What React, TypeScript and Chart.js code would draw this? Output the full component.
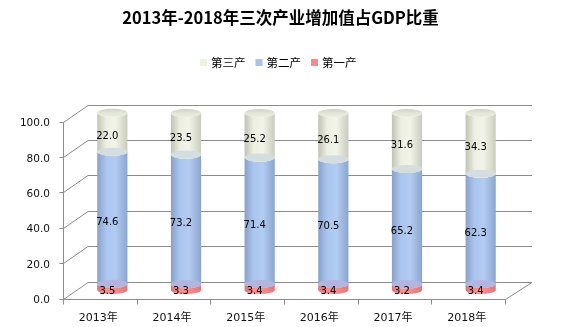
import React, { useEffect, useRef } from 'react';
import { Chart, registerables } from 'chart.js';

Chart.register(...registerables);

const TITLE = '2013年-2018年三次产业增加值占GDP比重';
const categories = ['2013年', '2014年', '2015年', '2016年', '2017年', '2018年'];
const seriesNames = ['第一产', '第二产', '第三产'];
const primaryValues = [3.5, 3.3, 3.4, 3.4, 3.2, 3.4];
const secondaryValues = [74.6, 73.2, 71.4, 70.5, 65.2, 62.3];
const tertiaryValues = [22.0, 23.5, 25.2, 26.1, 31.6, 34.3];
const yTickStep = 20;

const legendColors = ['#f58c8c', '#a9c4eb', '#eef2e4'];
const bodyStops: [number, string][][] = [
  [[0, '#dc7474'], [0.35, '#f69191'], [0.6, '#f48c8c'], [1, '#de7878']],
  [[0, '#88a1ca'], [0.3, '#aac6ef'], [0.6, '#b2ccf2'], [1, '#8ca5ce']],
  [[0, '#c1c4b4'], [0.3, '#ecefe1'], [0.6, '#f2f4e9'], [1, '#c9ccbd']],
];
const capColors = ['#b3b5df', '#d4dddf', '#e0e4d5'];
const FRAME = '#8c8c8c';
const DX = 12.5;
const DY = 8.5;
const RY = 4;

const frame3d = {
  id: 'frame3d',
  beforeDatasetsDraw(chart: any) {
    const ctx = chart.ctx as CanvasRenderingContext2D;
    const ca = chart.chartArea;
    const xs = chart.scales.x;
    const ys = chart.scales.y;
    ctx.save();
    ctx.strokeStyle = FRAME;
    ctx.lineWidth = 1;
    const r = (v: number) => Math.round(v) + 0.5;
    const y0 = ys.getPixelForValue(0);
    const y100 = ys.getPixelForValue(ys.max);
    ys.ticks.forEach((t: any) => {
      const ym = ys.getPixelForValue(t.value);
      ctx.beginPath();
      ctx.moveTo(ca.left + DX, r(ym - DY));
      ctx.lineTo(ca.right + DX + 2, r(ym - DY));
      ctx.stroke();
      ctx.beginPath();
      ctx.moveTo(r(ca.left - DX), r(ym + DY));
      ctx.lineTo(ca.left + DX, r(ym - DY));
      ctx.stroke();
      ctx.beginPath();
      ctx.moveTo(r(ca.left - DX) - 4, r(ym + DY));
      ctx.lineTo(r(ca.left - DX), r(ym + DY));
      ctx.stroke();
    });
    ctx.beginPath();
    ctx.moveTo(r(ca.left - DX), r(y100 + DY));
    ctx.lineTo(r(ca.left - DX), r(y0 + DY));
    ctx.stroke();
    ctx.beginPath();
    ctx.moveTo(r(ca.left - DX), r(y0 + DY));
    ctx.lineTo(r(ca.right - DX), r(y0 + DY));
    ctx.lineTo(ca.right + DX + 2, r(y0 - DY));
    ctx.stroke();
    const n = categories.length;
    const catW = (xs.getPixelForValue(n - 1) - xs.getPixelForValue(0)) / (n - 1);
    for (let k = 0; k <= n; k++) {
      const bx = xs.getPixelForValue(0) - catW / 2 + k * catW - DX;
      ctx.beginPath();
      ctx.moveTo(r(bx), r(y0 + DY));
      ctx.lineTo(r(bx), r(y0 + DY) + 5);
      ctx.stroke();
    }
    ctx.restore();

    const nSets = chart.data.datasets.length;
    for (let j = 0; j < n; j++) {
      for (let i = 0; i < nSets; i++) {
        const el = chart.getDatasetMeta(i).data[j];
        const { x, y, base, width } = el.getProps(['x', 'y', 'base', 'width'], true);
        const rx = width / 2;
        const top = Math.min(y, base);
        const bot = Math.max(y, base);
        const g = ctx.createLinearGradient(x - rx, 0, x + rx, 0);
        bodyStops[i].forEach(([o, c]) => g.addColorStop(o, c));
        ctx.save();
        ctx.beginPath();
        ctx.moveTo(x - rx, top);
        ctx.lineTo(x - rx, bot);
        ctx.ellipse(x, bot, rx, RY, 0, Math.PI, 0, true);
        ctx.lineTo(x + rx, top);
        ctx.ellipse(x, top, rx, RY, 0, 0, Math.PI, false);
        ctx.closePath();
        ctx.fillStyle = g;
        ctx.fill();
        ctx.restore();
      }
      for (let i = 0; i < nSets; i++) {
        const el = chart.getDatasetMeta(i).data[j];
        const { x, y, base, width } = el.getProps(['x', 'y', 'base', 'width'], true);
        const rx = width / 2;
        const top = Math.min(y, base);
        ctx.save();
        ctx.beginPath();
        ctx.ellipse(x, top, rx, RY, 0, 0, Math.PI * 2);
        if (i === nSets - 1) {
          const g2 = ctx.createLinearGradient(0, top - RY, 0, top + RY);
          g2.addColorStop(0, '#cdd1c1');
          g2.addColorStop(0.5, '#e2e6d8');
          g2.addColorStop(1, '#e9ecdf');
          ctx.fillStyle = g2;
        } else {
          ctx.fillStyle = capColors[i];
        }
        ctx.fill();
        ctx.restore();
      }
    }
    return false;
  },
  afterDraw(chart: any) {
    const ctx = chart.ctx as CanvasRenderingContext2D;
    ctx.save();
    ctx.fillStyle = '#000';
    ctx.font = '10px "DejaVu Sans"';
    ctx.textAlign = 'center';
    ctx.textBaseline = 'middle';
    chart.data.datasets.forEach((ds: any, i: number) => {
      chart.getDatasetMeta(i).data.forEach((el: any, j: number) => {
        const { x, y, base } = el.getProps(['x', 'y', 'base'], true);
        ctx.fillText(Number(ds.data[j]).toFixed(1), x - 5, (y + base) / 2 + 4.5);
      });
    });
    ctx.font = 'bold 16.5px "Noto Sans CJK SC"';
    ctx.fillStyle = '#000';
    ctx.fillText(TITLE, 280.5, 17.5);
    ctx.font = '11.5px "Noto Sans CJK SC"';
    ctx.textAlign = 'left';
    const items = [2, 1, 0];
    const widths = items.map((i) => 11 + ctx.measureText(seriesNames[i]).width);
    const total = widths.reduce((a, b) => a + b, 0) + 10 * (items.length - 1);
    let lx = Math.round(278.5 - total / 2);
    items.forEach((i, k) => {
      ctx.fillStyle = legendColors[i];
      ctx.fillRect(lx, 59, 7, 7);
      ctx.fillStyle = '#000';
      ctx.fillText(seriesNames[i], lx + 11, 63);
      lx += widths[k] + 10;
    });
    ctx.restore();
  },
};

export default function App() {
  const ref = useRef<HTMLCanvasElement>(null);
  useEffect(() => {
    const values = [primaryValues, secondaryValues, tertiaryValues];
    const chart = new Chart(ref.current as HTMLCanvasElement, {
      type: 'bar',
      data: {
        labels: categories,
        datasets: seriesNames.map((name, i) => ({
          label: name,
          data: values[i],
          backgroundColor: legendColors[i],
          categoryPercentage: 1,
          barPercentage: 0.41,
        })),
      },
      options: {
        animation: false,
        responsive: false,
        devicePixelRatio: 1,
        layout: { padding: { top: 113, right: 51.5, left: 0, bottom: 0 } },
        plugins: {
          title: { display: false },
          legend: { display: false },
          tooltip: { enabled: false },
        },
        scales: {
          x: {
            stacked: true,
            grid: { display: false },
            border: { display: false },
            ticks: {
              labelOffset: -14,
              padding: 14,
              color: '#111',
              font: { family: '"DejaVu Sans", "Noto Sans CJK SC"', size: 11 },
            },
            afterFit: (s: any) => { s.height = 37; },
          },
          y: {
            stacked: true,
            min: 0,
            max: 100,
            grid: { display: false },
            border: { display: false },
            ticks: {
              stepSize: yTickStep,
              labelOffset: 10.5,
              padding: 17.5,
              color: '#111',
              font: { family: '"DejaVu Sans"', size: 10.5 },
              callback: (v: any) => Number(v).toFixed(1),
            },
            afterFit: (s: any) => { s.width = 75.5; },
          },
        },
      },
      plugins: [frame3d],
    });
    return () => chart.destroy();
  }, []);
  return (
    <div style={{ position: 'fixed', left: 0, top: 0, width: 569, height: 327, background: '#fff' }}>
      <canvas ref={ref} width={569} height={327} style={{ display: 'block' }} />
    </div>
  );
}
